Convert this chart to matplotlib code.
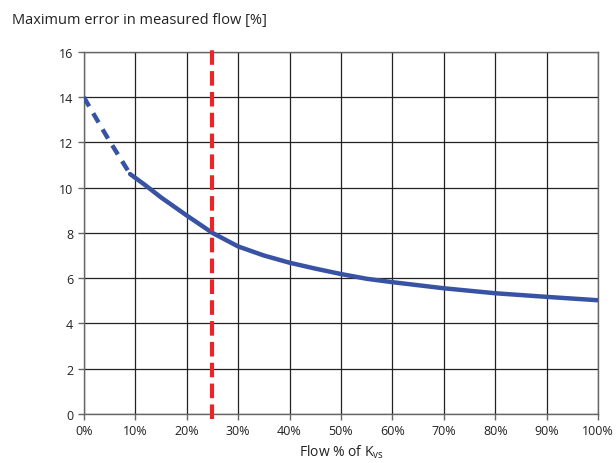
import matplotlib.pyplot as plt

plt.rcParams['font.family'] = ['Open Sans', 'DejaVu Sans']

# --- Data ---
flow_dashed = [0, 4.5, 9]
error_dashed = [14.0, 12.25, 10.6]

flow_solid = [9, 12, 15, 20, 25, 30, 35, 40, 45, 50, 55, 60, 70, 80, 90, 100]
error_solid = [10.6, 10.1, 9.57, 8.77, 8.0, 7.4, 7.0, 6.68, 6.42, 6.18, 5.97, 5.82, 5.55, 5.33, 5.17, 5.02]

limit_flow = 25
x_ticks = list(range(0, 101, 10))
x_labels = [f"{v}%" for v in x_ticks]
y_ticks = list(range(0, 17, 2))

BLUE = '#3953a4'
RED = '#ed2327'

fig = plt.figure(figsize=(6.16, 4.64), dpi=100)
ax = fig.add_axes([0.136, 0.106, 0.835, 0.78])

ax.plot(flow_dashed, error_dashed, color=BLUE, linewidth=3.2,
        linestyle=(0, (2.4, 1.8)), solid_capstyle='butt', zorder=3)
ax.plot(flow_solid, error_solid, color=BLUE, linewidth=3.2,
        solid_capstyle='round', zorder=3)
ax.plot([limit_flow, limit_flow], [-0.25, 16.3], color=RED, linewidth=3,
        linestyle=(0, (3.5, 1.5)), clip_on=False, zorder=4)

ax.set_xlim(0, 100)
ax.set_ylim(0, 16)
ax.set_xticks(x_ticks)
ax.set_xticklabels(x_labels)
ax.set_yticks(y_ticks)
ax.grid(True, color='#222222', linewidth=0.9)
for side in ['left', 'bottom', 'top', 'right']:
    ax.spines[side].set_color('#666666')
    ax.spines[side].set_linewidth(1.0)
ax.tick_params(axis='both', labelsize=9, color='#666666', length=4, width=1,
               labelcolor='#222222')

ax.set_xlabel("Flow % of K$_{\\mathregular{vs}}$", fontsize=10, color='#222222', labelpad=4)
fig.text(0.02, 0.955, "Maximum error in measured flow [%]", fontsize=10.5,
         color='#222222', ha='left', va='center')

fig.savefig("out.png", dpi=100)
